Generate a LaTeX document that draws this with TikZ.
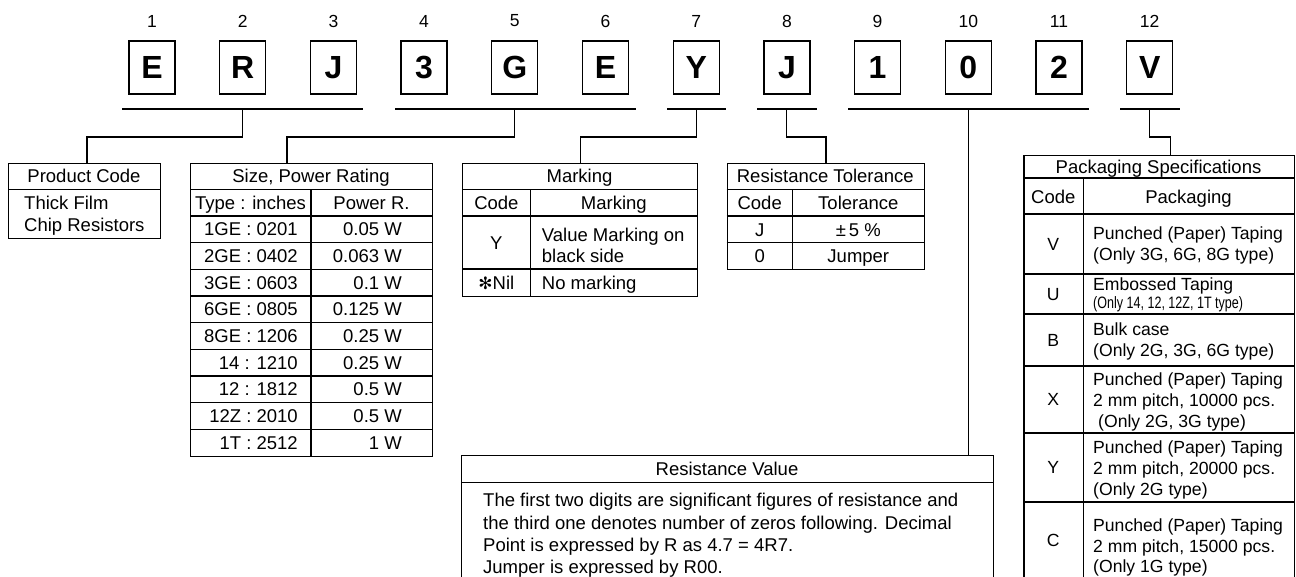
\documentclass[tikz,border=0pt]{standalone}
\usepackage{fontspec}
\setmainfont{Liberation Sans}
\newfontfamily\djv{DejaVu Sans}
\begin{document}
\begin{tikzpicture}[x=1pt,y=-1pt,
  letter/.style={draw, line width=1.3pt, minimum width=46pt, minimum height=53pt, inner sep=0pt, font=\fontsize{32}{32}\selectfont\bfseries},
  num/.style={font=\fontsize{17.5}{17.5}\selectfont, inner sep=0pt},
  tbl/.style={draw, line width=1.2pt, anchor=north west, inner sep=0pt},
  rule/.style={line width=1.2pt},
  conn/.style={line width=1.1pt},
  tx/.style={font=\fontsize{18.5}{21}\selectfont, inner sep=0pt, anchor=base},
  txl/.style={tx, anchor=base west},
  txr/.style={tx, anchor=base east},
  pt/.style={font=\fontsize{17.6}{21}\selectfont, inner sep=0pt, anchor=base west},
  pc/.style={font=\fontsize{17.6}{21}\selectfont, inner sep=0pt, anchor=base}
]
\useasboundingbox (0,0) rectangle (1296,576);
\clip (0,0) rectangle (1296,576);

% code letters and position numbers
\foreach \c [count=\i] in {E,R,J,3,G,E,Y,J,1,0,2,V} {
  \node[letter] (b\i) at ({152+90.7*(\i-1)}, 67.5) {\c};
  \node[num] (n\i) at ({152+90.7*(\i-1)}, 21) {\i};
}

% group underlines
\coordinate (u1a) at (122,109);  \coordinate (u1b) at (363,109);
\coordinate (u2a) at (395,109);  \coordinate (u2b) at (636,109);
\coordinate (u7a) at (667,109);  \coordinate (u7b) at (726,109);
\coordinate (u8a) at (757,109);  \coordinate (u8b) at (817,109);
\coordinate (u9a) at (848,109);  \coordinate (u9b) at (1089,109);
\coordinate (u12a) at (1120,109); \coordinate (u12b) at (1180,109);
\foreach \g in {1,2,7,8,9,12} { \draw[rule] (u\g a) -- (u\g b); }

% ---------- Product Code ----------
\node[tbl, minimum width=152pt, minimum height=75pt] (pcb) at (8,163) {};
\draw[rule] (pcb.west |- 0,189.3) -- (pcb.east |- 0,189.3);
\node[tx] (pcH) at (84,182.6) {Product Code};
\node[txl] (pcB1) at (24,209) {Thick Film};
\node[txl] (pcB2) at (24,231) {Chip Resistors};
\coordinate (pcTop) at (87,163);

% ---------- Size, Power Rating ----------
\node[tbl, minimum width=242pt, minimum height=293pt] (sz) at (190,163) {};
\draw[rule] (190,189.3) -- (432,189.3);
\draw[rule] (190,216) -- (432,216);
\foreach \k in {1,...,8} { \draw[rule] (190,{216+26.67*\k}) -- (432,{216+26.67*\k}); }
\draw[rule] (311,189.3) -- (311,456);
\node[tx] (szH) at (311,182.6) {Size, Power Rating};
\node[tx] (szC1) at (250.5,209.3) {Type : inches};
\node[tx] (szC2) at (371.5,209.3) {Power R.};
\foreach \a/\b [count=\i] in {1GE : 0201/0.05 W, 2GE : 0402/0.063 W, 3GE : 0603/0.1 W, 6GE : 0805/0.125 W, 8GE : 1206/0.25 W, 14 : 1210/0.25 W, 12 : 1812/0.5 W, 12Z : 2010/0.5 W, 1T : 2512/1 W} {
  \node[txr] (szL\i) at (298,{216+26.67*(\i-0.5)+6.6}) {\a};
  \node[txr] (szR\i) at (402,{216+26.67*(\i-0.5)+6.6}) {\b};
}
\coordinate (szTop) at (287,163);

% ---------- Marking ----------
\node[tbl, minimum width=235pt, minimum height=133pt] (mk) at (462,163) {};
\draw[rule] (462,189.3) -- (697,189.3);
\draw[rule] (462,216) -- (697,216);
\draw[rule] (462,269) -- (697,269);
\draw[rule] (530.7,189.3) -- (530.7,296);
\node[tx] (mkH) at (579.5,182.6) {Marking};
\node[tx] (mkC1) at (496.4,209.3) {Code};
\node[tx] (mkC2) at (613.8,209.3) {Marking};
\node[tx] (mkY) at (496.4,249) {Y};
\node[txl] (mkY1) at (541.7,241) {Value Marking on};
\node[txl] (mkY2) at (541.7,262) {black side};
\node[tx] (mkN) at (496.4,289) {{\djv\fontsize{17}{17}\selectfont ✻}Nil};
\node[txl] (mkN1) at (541.7,289) {No marking};

% ---------- Resistance Tolerance ----------
\node[tbl, minimum width=197.3pt, minimum height=106pt] (rt) at (726.7,163) {};
\draw[rule] (726.7,189.3) -- (924,189.3);
\draw[rule] (726.7,216) -- (924,216);
\draw[rule] (726.7,242.7) -- (924,242.7);
\draw[rule] (792.7,189.3) -- (792.7,269);
\node[tx] (rtH) at (825.3,182.6) {Resistance Tolerance};
\node[tx] (rtC1) at (759.7,209.3) {Code};
\node[tx] (rtC2) at (858.3,209.3) {Tolerance};
\node[tx] (rtJ) at (759.7,236) {J};
\node[tx] (rtJ1) at (858.3,236) {±\,5 \%};
\node[tx] (rt0) at (759.7,262.4) {0};
\node[tx] (rt01) at (858.3,262.4) {Jumper};

% ---------- Resistance Value ----------
\node[tbl, minimum width=532pt, minimum height=130pt] (rv) at (461,455) {};
\draw[rule] (461,482.7) -- (993,482.7);
\node[tx] (rvH) at (727,475.6) {Resistance Value};
\node[txl] (rv1) at (483,506.5) {The first two digits are significant figures of resistance and};
\node[txl] (rv2) at (483,529) {the third one denotes number of zeros following. Decimal};
\node[txl] (rv3) at (483,551.5) {Point is expressed by R as 4.7 = 4R7.};
\node[txl] (rv4) at (483,573.5) {Jumper is expressed by R00.};

% ---------- Packaging Specifications ----------
\node[tbl, minimum width=270.5pt, minimum height=430pt] (pk) at (1023.3,155) {};
\foreach \yy in {178,214,274,314,366,433,502} { \draw[rule] (1023.3,\yy) -- (1293.8,\yy); }
\draw[rule] (1083.3,178) -- (1083.3,585);
\node[tx] (pkH) at (1158.5,173) {Packaging Specifications};
\node[tx] (pkC1) at (1053.3,203) {Code};
\node[tx] (pkC2) at (1188.5,203) {Packaging};
\node[pc] (pkV) at (1053.3,250.3) {V};
\node[pt] (pkV1) at (1093,239.8) {Punched (Paper) Taping};
\node[pt] (pkV2) at (1093,260.8) {(Only 3G, 6G, 8G type)};
\node[pc] (pkU) at (1053.3,300.3) {U};
\node[pt] (pkU1) at (1093,290) {Embossed Taping};
\node[pt] (pkU2) at (1093,308.5) {\scalebox{0.76}[1]{\fontsize{16.5}{16.5}\selectfont (Only 14, 12, 12Z, 1T type)}};
\node[pc] (pkB) at (1053.3,346.3) {B};
\node[pt] (pkB1) at (1093,335.8) {Bulk case};
\node[pt] (pkB2) at (1093,356.8) {(Only 2G, 3G, 6G type)};
\node[pc] (pkX) at (1053.3,405.8) {X};
\node[pt] (pkX1) at (1093,385.8) {Punched (Paper) Taping};
\node[pt] (pkX2) at (1093,406.8) {2 mm pitch, 10000 pcs.};
\node[pt] (pkX3) at (1093,427.8) {\hspace{5pt}(Only 2G, 3G type)};
\node[pc] (pkY) at (1053.3,473.8) {Y};
\node[pt] (pkY1) at (1093,453.3) {Punched (Paper) Taping};
\node[pt] (pkY2) at (1093,474.3) {2 mm pitch, 20000 pcs.};
\node[pt] (pkY3) at (1093,495.3) {(Only 2G type)};
\node[pc] (pkC) at (1053.3,546.3) {C};
\node[pt] (pkC1r) at (1093,531) {Punched (Paper) Taping};
\node[pt] (pkC2r) at (1093,552) {2 mm pitch, 15000 pcs.};
\node[pt] (pkC3r) at (1093,572) {(Only 1G type)};
\coordinate (pkTop) at (1170.7,155);

% ---------- connectors ----------
\draw[conn] (b2 |- u1a) -- ++(0,28) -| (pcTop);
\draw[conn] (b5 |- u2a) -- ++(0,28) -| (szTop);
\draw[conn] (b7 |- u7a) -- ++(0,28) -| (mk.north);
\draw[conn] (b8 |- u8a) -- ++(0,28) -| (rt.north);
\draw[conn] (b10 |- u9a) -- (b10 |- rv.north);
\draw[conn] (b12 |- u12a) -- ++(0,28) -| (pkTop);
\end{tikzpicture}
\end{document}
